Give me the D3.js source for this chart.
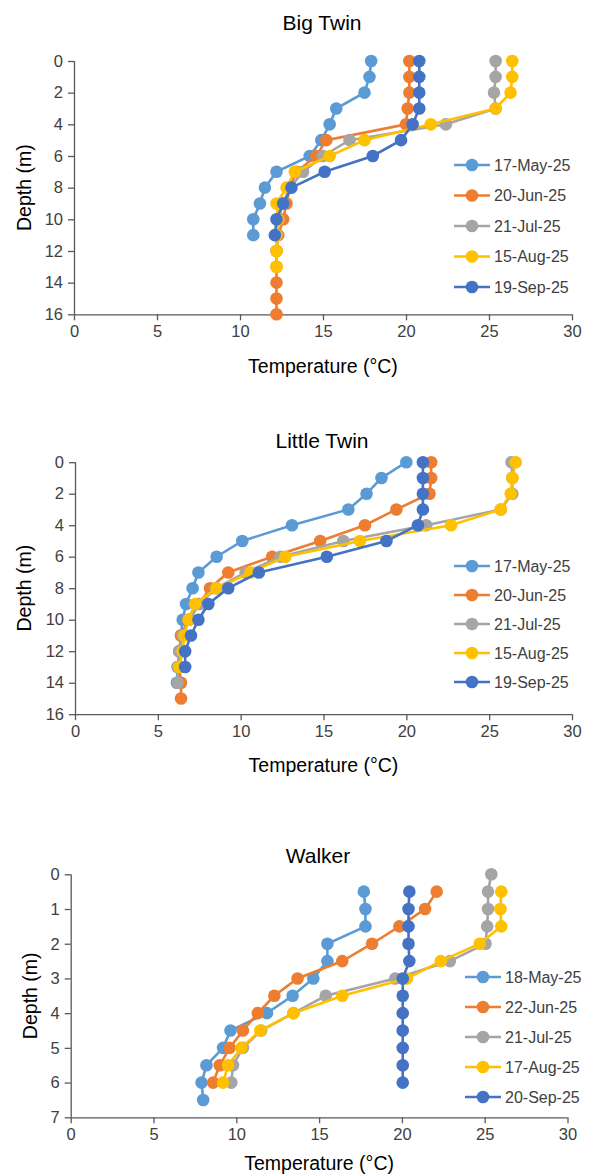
<!DOCTYPE html>
<html><head><meta charset="utf-8">
<script src="https://cdn.jsdelivr.net/npm/d3@7"></script>
<style>body{margin:0;background:#fff}svg{display:block}</style>
</head><body>
<svg id="c" width="591" height="1176"></svg>
<script>
// ---------- DATA ----------
const seriesColors = ["#5B9BD5", "#ED7D31", "#A5A5A5", "#FFC000", "#4472C4"];
const tempTicks = [0, 5, 10, 15, 20, 25, 30];

// Big Twin
const bigTwinNames = ["17-May-25", "20-Jun-25", "21-Jul-25", "15-Aug-25", "19-Sep-25"];
const bigTwinDepths = [0,1,2,3,4,5,6,7,8,9,10,11,12,13,14,15,16];
const bigTwinMay = [17.9,17.8,17.5,15.8,15.4,14.9,14.2,12.2,11.5,11.2,10.8,10.8];
const bigTwinJun = [20.2,20.2,20.2,20.1,20.0,15.2,14.6,13.4,13.0,12.8,12.6,12.3,12.2,12.2,12.2,12.2,12.2];
const bigTwinJul = [25.4,25.4,25.3,25.4,22.4,16.6,15.0,13.8,13.0,12.6,12.3,12.2,12.2];
const bigTwinAug = [26.4,26.4,26.3,25.4,21.5,17.5,15.4,13.3,12.8,12.2,12.3,12.2,12.2,12.2];
const bigTwinSep = [20.8,20.8,20.8,20.8,20.4,19.7,18.0,15.1,13.1,12.6,12.2,12.1];
const bigTwinDepthTicks = [0,2,4,6,8,10,12,14,16];

// Little Twin
const littleTwinNames = ["17-May-25", "20-Jun-25", "21-Jul-25", "15-Aug-25", "19-Sep-25"];
const littleTwinDepths = [0,1,2,3,4,5,6,7,8,9,10,11,12,13,14,15];
const littleTwinMay = [20.0,18.5,17.6,16.5,13.1,10.1,8.55,7.45,7.1,6.7,6.5,6.4,6.3,6.2,6.15];
const littleTwinJun = [21.5,21.5,21.4,19.4,17.5,14.8,11.9,9.25,8.15,7.5,6.85,6.4,6.3,6.3,6.4,6.4];
const littleTwinJul = [26.35,26.4,26.4,25.7,21.2,16.2,12.4,10.3,8.5,7.5,6.9,6.5,6.3,6.2,6.2];
const littleTwinAug = [26.6,26.4,26.3,25.7,22.7,17.2,12.7,10.6,8.55,7.25,6.85,6.6,6.5,6.3];
const littleTwinSep = [21.0,21.0,21.0,21.0,20.7,18.8,15.2,11.1,9.25,8.05,7.45,7.0,6.65,6.65];
const littleTwinDepthTicks = [0,2,4,6,8,10,12,14,16];

// Walker
const walkerNames = ["18-May-25", "22-Jun-25", "21-Jul-25", "17-Aug-25", "20-Sep-25"];
const walkerDepths = [0,0.5,1,1.5,2,2.5,3,3.5,4,4.5,5,5.5,6,6.5];
const walkerMay = [null,17.7,17.8,17.8,15.5,15.5,14.65,13.4,11.85,9.65,9.2,8.2,7.9,8.0];
const walkerJun = [null,22.1,21.4,19.85,18.2,16.4,13.7,12.3,11.3,10.4,9.6,9.0,8.6];
const walkerJul = [25.4,25.2,25.2,25.15,25.05,22.9,19.6,15.4,13.45,11.5,10.4,9.8,9.7];
const walkerAug = [null,26.0,25.95,26.0,24.7,22.35,20.3,16.4,13.45,11.45,10.3,9.5,9.2];
const walkerSep = [null,20.45,20.4,20.4,20.4,20.45,20.05,20.05,20.05,20.05,20.05,20.05,20.05];
const walkerDepthTicks = [0,1,2,3,4,5,6,7];

// ---------- DRAW ----------
const svg = d3.select("#c");
const font = "Liberation Sans, Arial, sans-serif";

function drawChart(cfg) {
  const x = d3.scaleLinear().domain([0, 30]).range([cfg.x0, cfg.x1]);
  const y = d3.scaleLinear().domain([0, cfg.ymax]).range([cfg.y0, cfg.y1]);
  const g = svg.append("g");

  g.append("text").attr("x", cfg.titleX).attr("y", cfg.titleY)
    .attr("text-anchor", "middle").attr("font-family", font)
    .attr("font-size", 21).attr("fill", "#000").text(cfg.title);

  const yAxis = g.append("g").attr("transform", `translate(${cfg.x0},0)`)
    .call(d3.axisLeft(y).tickValues(cfg.depthTicks).tickSize(6).tickPadding(5).tickFormat(d3.format("d")));
  const xAxis = g.append("g").attr("transform", `translate(0,${cfg.y1})`)
    .call(d3.axisBottom(x).tickValues(tempTicks).tickSize(6).tickPadding(5).tickFormat(d3.format("d")));
  [yAxis, xAxis].forEach(a => {
    a.select(".domain").attr("stroke", "#595959").attr("stroke-width", 1.3);
    a.selectAll(".tick line").attr("stroke", "#595959").attr("stroke-width", 1.3);
    a.selectAll(".tick text").attr("font-family", font).attr("font-size", 16.5).attr("fill", "#404040");
  });
  xAxis.select(".domain").attr("d", `M${cfg.x0},0.5H${cfg.x1}`);
  yAxis.select(".domain").attr("d", `M0.5,${cfg.y0}V${cfg.y1}`);

  g.append("text").attr("transform", `translate(${cfg.yTitleX},${(cfg.y0 + cfg.y1) / 2}) rotate(-90)`)
    .attr("text-anchor", "middle").attr("dy", "0.35em").attr("font-family", font)
    .attr("font-size", 19.5).attr("fill", "#000").text("Depth (m)");
  g.append("text").attr("x", (cfg.x0 + cfg.x1) / 2).attr("y", cfg.xTitleY)
    .attr("text-anchor", "middle").attr("font-family", font)
    .attr("font-size", 19.5).attr("fill", "#000").text("Temperature (°C)");

  const line = d3.line().x(d => x(d.t)).y(d => y(d.d));
  cfg.series.forEach((vals, i) => {
    const pts = vals.map((t, k) => ({ t: t, d: cfg.depths[k] })).filter(p => p.t != null);
    const sg = g.append("g");
    sg.append("path").datum(pts).attr("d", line).attr("fill", "none")
      .attr("stroke", seriesColors[i]).attr("stroke-width", 2.6);
    sg.selectAll("circle").data(pts).join("circle")
      .attr("cx", d => x(d.t)).attr("cy", d => y(d.d)).attr("r", 6.3)
      .attr("fill", seriesColors[i]);
  });

  const lg = g.append("g");
  cfg.names.forEach((n, i) => {
    const ly = cfg.legendY + i * cfg.legendDy;
    lg.append("line").attr("x1", cfg.legendX).attr("x2", cfg.legendX + 36)
      .attr("y1", ly).attr("y2", ly).attr("stroke", seriesColors[i]).attr("stroke-width", 2.6);
    lg.append("circle").attr("cx", cfg.legendX + 18).attr("cy", ly).attr("r", 6.3).attr("fill", seriesColors[i]);
    lg.append("text").attr("x", cfg.legendX + 40).attr("y", ly).attr("dy", "0.35em")
      .attr("font-family", font).attr("font-size", 16).attr("fill", "#404040").text(n);
  });
}

drawChart({
  title: "Big Twin", titleX: 322, titleY: 30,
  x0: 74, x1: 572, y0: 61, y1: 314.3, ymax: 16,
  depthTicks: bigTwinDepthTicks, depths: bigTwinDepths,
  series: [bigTwinMay, bigTwinJun, bigTwinJul, bigTwinAug, bigTwinSep], names: bigTwinNames,
  yTitleX: 24, xTitleY: 373, legendX: 454, legendY: 165, legendDy: 30.5
});
drawChart({
  title: "Little Twin", titleX: 322, titleY: 448,
  x0: 75, x1: 572, y0: 462.2, y1: 714.2, ymax: 16,
  depthTicks: littleTwinDepthTicks, depths: littleTwinDepths,
  series: [littleTwinMay, littleTwinJun, littleTwinJul, littleTwinAug, littleTwinSep], names: littleTwinNames,
  yTitleX: 24, xTitleY: 772, legendX: 454, legendY: 566, legendDy: 29
});
drawChart({
  title: "Walker", titleX: 318, titleY: 863,
  x0: 70.7, x1: 567.5, y0: 874.3, y1: 1117.3, ymax: 7,
  depthTicks: walkerDepthTicks, depths: walkerDepths,
  series: [walkerMay, walkerJun, walkerJul, walkerAug, walkerSep], names: walkerNames,
  yTitleX: 30, xTitleY: 1170, legendX: 465, legendY: 977, legendDy: 30
});
</script>
</body></html>
